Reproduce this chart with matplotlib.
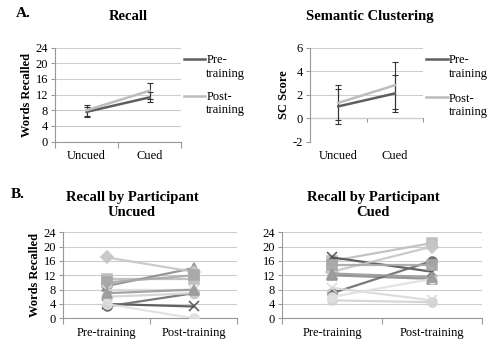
import matplotlib
matplotlib.use("Agg")
import matplotlib.pyplot as plt
from matplotlib.lines import Line2D
import numpy as np

plt.rcParams['font.family'] = ['Liberation Serif', 'DejaVu Serif']
plt.rcParams['axes.unicode_minus'] = False

# ---- data ----
conditions = ["Uncued", "Cued"]
recall_pre = [7.6, 11.3]
recall_pre_err = [1.2, 1.3]
recall_post = [8.0, 13.0]
recall_post_err = [1.4, 2.0]

sc_pre = [1.0, 2.1]
sc_pre_err = [1.5, 1.6]
sc_post = [1.3, 2.8]
sc_post_err = [1.5, 2.0]

phases = ["Pre-training", "Post-training"]
uncued_pre = [11, 9, 4, 3.3, 6, 17, 10, 8, 4, 7]
uncued_post = [11, 14, 3.3, 7, 7, 13, 12, 8, 0, 8]
cued_pre = [16, 12, 17, 7, 5, 13, 15, 8.5, 6, 12.5]
cued_post = [21, 11, 13, 16, 4.5, 20, 15, 5, 11, 11.5]

# ---- styles ----
PRE_C = "#5e5e5e"
POST_C = "#bdbdbd"
ERR_C = "#333333"
GRID_C = "#cccccc"
AX_C = "#999999"
part_colors = ["#bdbdbd", "#8c8c8c", "#505050", "#6a6a6a", "#d2d2d2",
               "#c6c6c6", "#a8a8a8", "#d9d9d9", "#e0e0e0", "#9a9a9a"]
part_markers = ["s", "^", "x", "o", "o", "D", "s", "x", "o", "^"]

fig = plt.figure(figsize=(5, 3.48), dpi=100)


def style_axes(ax, ylim, yticks, labels, ylabel=None):
    ax.set_xlim(-0.5, 1.5)
    ax.set_ylim(*ylim)
    ax.set_yticks(yticks)
    ax.set_xticks([0, 1])
    ax.set_xticklabels(labels, fontsize=9)
    ax.set_xticks([-0.5, 0.5, 1.5], minor=True)
    ax.tick_params(axis="x", which="major", length=0, pad=6)
    ax.tick_params(axis="x", which="minor", length=4, color=AX_C, width=0.8)
    ax.tick_params(axis="y", length=3, color=AX_C, width=0.8, labelsize=9, pad=2)
    ax.grid(axis="y", color=GRID_C, lw=0.8, zorder=0)
    for s in ["top", "right"]:
        ax.spines[s].set_visible(False)
    for s in ["left", "bottom"]:
        ax.spines[s].set_color(AX_C)
        ax.spines[s].set_linewidth(0.8)
    if ylabel:
        ax.set_ylabel(ylabel, fontsize=9, fontweight="bold", labelpad=2)


def manual_legend(ax, x0, x1, ys):
    for (lab, col), y in zip([("Pre-\ntraining", PRE_C), ("Post-\ntraining", POST_C)], ys):
        ax.add_line(Line2D([x0, x1], [y, y], color=col, lw=1.8,
                           transform=ax.transAxes, clip_on=False))
        ax.text(x1 + 0.01, y + 0.05, lab, transform=ax.transAxes,
                fontsize=9, va="top", ha="left", linespacing=1.15)


x = np.arange(len(conditions))

# ---- A: Recall ----
ax1 = fig.add_axes([0.11, 0.593, 0.252, 0.27])
ax1.errorbar(x, recall_pre, yerr=recall_pre_err, color=PRE_C, lw=1.8,
             ecolor=ERR_C, elinewidth=0.8, capsize=2.5, capthick=0.8, zorder=3)
ax1.errorbar(x, recall_post, yerr=recall_post_err, color=POST_C, lw=1.8,
             ecolor=ERR_C, elinewidth=0.8, capsize=2.5, capthick=0.8, zorder=3)
style_axes(ax1, (0, 24), range(0, 25, 4), conditions, "Words Recalled")
manual_legend(ax1, 1.02, 1.19, [0.88, 0.49])

# ---- A: Semantic clustering ----
ax2 = fig.add_axes([0.62, 0.593, 0.226, 0.27])
ax2.errorbar(x, sc_pre, yerr=sc_pre_err, color=PRE_C, lw=1.8,
             ecolor=ERR_C, elinewidth=0.8, capsize=2.5, capthick=0.8, zorder=3)
ax2.errorbar(x, sc_post, yerr=sc_post_err, color=POST_C, lw=1.8,
             ecolor=ERR_C, elinewidth=0.8, capsize=2.5, capthick=0.8, zorder=3)
style_axes(ax2, (-2, 6), range(-2, 7, 2), conditions, "SC Score")
ax2.spines["bottom"].set_visible(False)
ax2.tick_params(axis="x", which="minor", length=0)
sec = ax2.secondary_xaxis(0.25)
sec.set_xticks([])
sec.set_xticks([-0.5, 0.5, 1.5], minor=True)
sec.tick_params(axis="x", which="minor", length=3, color=AX_C, width=0.8)
sec.spines["bottom"].set_color(AX_C)
sec.spines["bottom"].set_linewidth(0.8)
manual_legend(ax2, 1.03, 1.22, [0.88, 0.47])

# ---- B: by participant ----
ax3 = fig.add_axes([0.126, 0.0853, 0.348, 0.2472])
ax4 = fig.add_axes([0.564, 0.0853, 0.40, 0.2472])
for ax, pre, post in [(ax3, uncued_pre, uncued_post), (ax4, cued_pre, cued_post)]:
    for i in range(len(pre)):
        c = part_colors[i]
        ax.plot(x, [pre[i], post[i]], color=c, lw=1.6, marker=part_markers[i],
                markersize=6.5, markerfacecolor=c, markeredgecolor=c,
                markeredgewidth=1.2, zorder=3, alpha=0.9)
style_axes(ax3, (0, 24), range(0, 25, 4), phases, "Words Recalled")
style_axes(ax4, (0, 24), range(0, 25, 4), phases)

# ---- titles ----
tkw = dict(fontsize=10.5, fontweight="bold", ha="center", va="center")
fig.text(0.046, 0.962, "A.", fontsize=11, fontweight="bold", ha="center", va="center")
fig.text(0.256, 0.954, "Recall", **tkw)
fig.text(0.74, 0.954, "Semantic Clustering", **tkw)
fig.text(0.036, 0.44, "B.", fontsize=11, fontweight="bold", ha="center", va="center")
fig.text(0.264, 0.412, "Recall by Participant\nUncued", linespacing=1.2, **tkw)
fig.text(0.746, 0.412, "Recall by Participant\nCued", linespacing=1.2, **tkw)

fig.savefig("out.png", dpi=100)
